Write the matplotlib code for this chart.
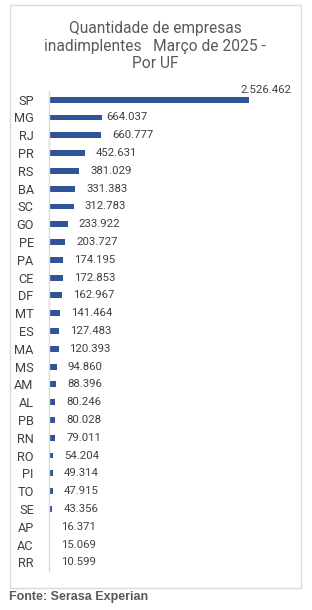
import matplotlib
matplotlib.use('Agg')
import matplotlib.pyplot as plt
from matplotlib.patches import Rectangle
from matplotlib import transforms

states = ['SP', 'MG', 'RJ', 'PR', 'RS', 'BA', 'SC', 'GO', 'PE', 'PA', 'CE', 'DF', 'MT',
          'ES', 'MA', 'MS', 'AM', 'AL', 'PB', 'RN', 'RO', 'PI', 'TO', 'SE', 'AP', 'AC', 'RR']
values = [2526462, 664037, 660777, 452631, 381029, 331383, 312783, 233922, 203727, 174195,
          172853, 162967, 141464, 127483, 120393, 94860, 88396, 80246, 80028, 79011,
          54204, 49314, 47915, 43356, 16371, 15069, 10599]
title = 'Quantidade de empresas\ninadimplentes   Março de 2025 -\nPor UF'
source = 'Fonte: Serasa Experian'

W, H = 312, 610
fig = plt.figure(figsize=(W / 100, H / 100), dpi=100)
fig.patch.set_facecolor('white')

# moldura do gráfico
fig.add_artist(Rectangle((10 / W, 1 - 588 / H), 291 / W, 583 / H, transform=fig.transFigure,
                         fill=False, edgecolor='#D9D9D9', linewidth=1))

ax = fig.add_axes([49 / W, 1 - 571.2 / H, 200 / W, 480.4 / H])
ypos = list(range(len(states)))
ax.barh(ypos, values, height=0.33, color='#2F5597', left=0)
ax.set_xlim(0, max(values))
ax.set_ylim(len(states) - 0.5, -0.5)
ax.set_yticks(ypos)
ax.set_yticklabels(states, fontsize=9.2, color='#404040', family='Roboto')
ax.tick_params(axis='y', length=0, pad=11)
ax.set_xticks([])
for s in ['top', 'right', 'bottom']:
    ax.spines[s].set_visible(False)
ax.spines['left'].set_color('#D9D9D9')
ax.spines['left'].set_linewidth(1)

def fmt(v):
    return f'{v:,}'.replace(',', '.')

for i, v in enumerate(values):
    if i == 0:
        ax.text(v + max(values) * 0.21, i - 0.55, fmt(v), ha='right', va='center',
                fontsize=8.2, color='#404040', family='Roboto', clip_on=False)
    else:
        off = transforms.offset_copy(ax.transData, fig=fig, x=11 if i != 1 else 5, y=0, units='dots')
        ax.text(v, i, fmt(v), ha='left', va='center', fontsize=8.2, color='#404040',
                family='Roboto', transform=off, clip_on=False)

fig.text(155 / W, 1 - 46 / H, title, ha='center', va='center', fontsize=11.2,
         color='#595959', family='Roboto', linespacing=1.18)
fig.text(9 / W, 1 - 597 / H, source, ha='left', va='center', fontsize=9,
         color='#595959', family='Liberation Sans', fontweight='bold')

fig.savefig('out.png', dpi=100)
